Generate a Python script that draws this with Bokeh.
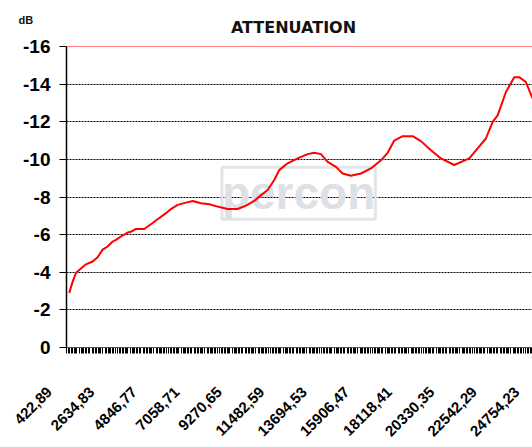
from math import pi
from bokeh.plotting import figure
from bokeh.layouts import column
from bokeh.models import Range1d, FixedTicker, Span, Label
from bokeh.embed import file_html
from bokeh.resources import INLINE

# ---- data ----
freq_hz = [543, 720, 891, 1063, 1412, 1760, 2021, 2281, 2541, 2801, 2973, 3234, 3582, 3754,
           4014, 4446, 4795, 5144, 5576, 5836, 6185, 6617, 6966, 7398, 7830, 8267, 8787, 9308,
           9740, 10172, 10432, 10869, 11213, 11473, 11910, 12431, 12951, 13295, 13644, 13992,
           14424, 14773, 15205, 15726, 16246, 16767, 17116, 17459, 17896, 18417, 18849, 19369,
           19890, 20582, 21363, 21800, 22232, 22581, 22841, 23273, 23705, 23965, 24313, 24662]
atten_db = [-2.9, -3.5, -3.96, -4.12, -4.42, -4.57, -4.8, -5.2, -5.37, -5.63, -5.72, -5.9, -6.11,
            -6.15, -6.3, -6.3, -6.55, -6.82, -7.14, -7.36, -7.58, -7.70, -7.79, -7.67, -7.61,
            -7.49, -7.36, -7.36, -7.54, -7.79, -8.02, -8.37, -8.9, -9.43, -9.79, -10.05, -10.28,
            -10.35, -10.28, -9.87, -9.6, -9.25, -9.13, -9.25, -9.52, -9.95, -10.35, -11.0, -11.23,
            -11.23, -10.97, -10.49, -10.05, -9.7, -10.05, -10.58, -11.11, -11.99, -12.34, -13.58,
            -14.37, -14.37, -14.11, -13.23]

x_tick_values = [422.89, 2634.83, 4846.77, 7058.71, 9270.65, 11482.59, 13694.53, 15906.47,
                 18118.41, 20330.35, 22542.29, 24754.23]
x_tick_labels = ["422,89", "2634,83", "4846,77", "7058,71", "9270,65", "11482,59", "13694,53",
                 "15906,47", "18118,41", "20330,35", "22542,29", "24754,23"]
y_tick_values = [-16, -14, -12, -10, -8, -6, -4, -2, 0]
y_tick_labels = ["-16", "-14", "-12", "-10", "-8", "-6", "-4", "-2", "0"]

title_text = "ATTENUATION"
unit_text = "dB"
watermark_text = "percon"

# ---- layout constants ----
LEFT, FW, FH = 66, 466, 301
HEADER_H = 36
HZ_PER_PX = 52.05
x_start = 400
x_end = x_start + FW * HZ_PER_PX

# ---- header strip with the title and the unit ----
h = figure(width=532, height=HEADER_H, output_backend="svg", toolbar_location=None,
           x_range=Range1d(0, 532), y_range=Range1d(HEADER_H, 0),
           x_axis_location=None, y_axis_location=None,
           min_border_left=0, min_border_right=0, min_border_top=0, min_border_bottom=0)
h.frame_align = False
h.outline_line_color = None
h.grid.grid_line_color = None
h.background_fill_color = None
h.border_fill_color = None
h.add_layout(Label(x=293, y=26.5, text=title_text, text_align="center", text_baseline="middle",
                   text_font="DejaVu Sans", text_font_style="bold", text_font_size="16px",
                   text_color="#111111"))
h.add_layout(Label(x=18, y=19.5, text=unit_text, text_align="left", text_baseline="middle",
                   text_font="Liberation Sans", text_font_style="bold", text_font_size="11px",
                   text_color="#111111"))

# ---- main figure ----
p = figure(frame_width=FW, frame_height=FH, output_backend="svg", toolbar_location=None,
           x_range=Range1d(x_start, x_end), y_range=Range1d(0, -16),
           min_border_left=LEFT, min_border_right=0, min_border_top=46 - HEADER_H,
           min_border_bottom=14)
p.outline_line_color = None
p.background_fill_color = "white"

# dense category marks along the x axis, with a small gap every 9th mark
step = 2211.94 / 30
minor = []
k = 0
v = x_tick_values[0]
while v < x_end:
    if k % 9 != 8:
        minor.append(v)
    v += step
    k += 1

p.xaxis.ticker = FixedTicker(ticks=[], minor_ticks=minor)
p.xaxis.minor_tick_in = 0
p.xaxis.minor_tick_out = 6
p.xaxis.minor_tick_line_color = "black"
p.xaxis.major_tick_line_color = None
p.xaxis.axis_line_color = "#b02020"

p.yaxis.ticker = FixedTicker(ticks=y_tick_values)
p.yaxis.major_label_overrides = {v: l for v, l in zip(y_tick_values, y_tick_labels)}
p.yaxis.major_label_text_font = "Liberation Sans"
p.yaxis.major_label_text_font_style = "bold"
p.yaxis.major_label_text_font_size = "19px"
p.yaxis.major_label_text_color = "black"
p.yaxis.major_label_standoff = 9
p.yaxis.major_tick_in = 0
p.yaxis.major_tick_out = 7
p.yaxis.minor_tick_line_color = None
p.yaxis.axis_line_color = "black"
p.yaxis.axis_line_width = 1.5

p.xgrid.grid_line_color = None
p.ygrid.grid_line_color = "black"
p.ygrid.grid_line_dash = "2 1"
p.ygrid.grid_line_width = 1

p.add_layout(Span(location=-16, dimension="width", line_color="red", line_width=1))
p.add_layout(Span(location=0, dimension="width", line_color="#d04040", line_width=1))

wm = Label(x=12481, y=-8.2, text=watermark_text, text_align="center", text_baseline="middle",
           text_font="Liberation Sans", text_font_style="bold", text_font_size="46px",
           text_color="#dde1e5", border_line_color="#e2e5e8", border_line_width=3,
           level="underlay")
p.add_layout(wm)

p.line(freq_hz, atten_db, line_color="red", line_width=2)

# ---- label strip: the rotated category labels of the x axis ----
SHIFT = 17.5  # labels sit left of their marks, as in the reference
s2 = x_start + (0 - LEFT + SHIFT) * HZ_PER_PX
e2 = s2 + 532 * HZ_PER_PX
q = figure(frame_width=532, frame_height=1, output_backend="svg", toolbar_location=None,
           x_range=Range1d(s2, e2), y_range=Range1d(0, 1), y_axis_location=None,
           min_border_left=0, min_border_right=0, min_border_top=0, min_border_bottom=0)
q.frame_align = False
q.outline_line_color = None
q.background_fill_color = None
q.border_fill_color = None
q.grid.grid_line_color = None
q.xaxis.ticker = FixedTicker(ticks=x_tick_values)
q.xaxis.major_label_overrides = {v: l for v, l in zip(x_tick_values, x_tick_labels)}
q.xaxis.major_label_orientation = pi / 4
q.xaxis.major_label_text_font = "Liberation Sans"
q.xaxis.major_label_text_font_style = "bold"
q.xaxis.major_label_text_font_size = "15px"
q.xaxis.major_label_text_color = "black"
q.xaxis.major_label_standoff = 21
q.xaxis.major_tick_line_color = None
q.xaxis.minor_tick_line_color = None
q.xaxis.axis_line_color = None

layout = column(h, p, q, spacing=0)
open("out.html", "w").write(file_html(layout, INLINE))
